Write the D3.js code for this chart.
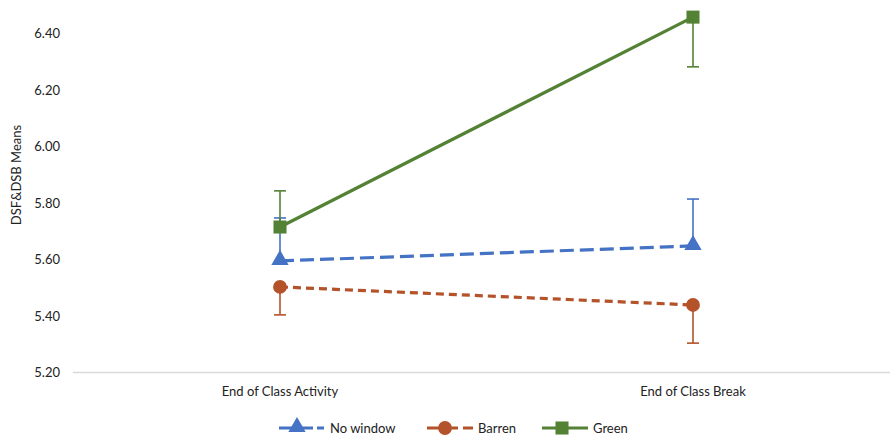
<!DOCTYPE html>
<html>
<head>
<meta charset="utf-8">
<script src="https://cdn.jsdelivr.net/npm/d3@7"></script>
<style>
  html, body { margin: 0; padding: 0; background: #fff; }
  svg { display: block; }
  text { font-family: Lato, "Open Sans", sans-serif; fill: #222; }
</style>
</head>
<body>
<svg id="chart" width="890" height="438"></svg>
<script>
const categories = ["End of Class Activity", "End of Class Break"];
const seriesNames = ["No window", "Barren", "Green"];
const noWindow = [5.595, 5.648];
const barren = [5.503, 5.439];
const green = [5.715, 6.458];
// one-sided error bars: positive = upward, negative = downward
const noWindowErr = [0.152, 0.166];
const barrenErr = [-0.099, -0.135];
const greenErr = [0.128, -0.176];
const yTicks = [5.20, 5.40, 5.60, 5.80, 6.00, 6.20, 6.40];

const colors = ["#4472C4", "#B4522A", "#548235"];
const dashes = ["14,6", "8,5", null];
const markers = [d3.symbolTriangle, d3.symbolCircle, d3.symbolSquare];
const markerSizes = [130, 150, 170];

const series = [
  {name: seriesNames[0], values: noWindow, err: noWindowErr},
  {name: seriesNames[1], values: barren, err: barrenErr},
  {name: seriesNames[2], values: green, err: greenErr}
];

const svg = d3.select("#chart");
const x = d3.scaleBand().domain(categories).range([73.5, 899.5]).padding(0);
const y = d3.scaleLinear().domain([5.2, 6.5]).range([372.5, 5.25]);

// y tick labels (no axis line)
const yAxis = d3.axisLeft(y).tickValues(yTicks).tickFormat(d3.format(".2f")).tickSize(0).tickPadding(0);
const gy = svg.append("g").attr("transform", "translate(60,0)").call(yAxis);
gy.select(".domain").remove();
gy.selectAll("text").attr("font-size", 13).attr("font-family", "Lato, 'Open Sans', sans-serif").attr("fill", "#222");

// x axis
const xAxis = d3.axisBottom(x).tickSize(0).tickPadding(14);
const gx = svg.append("g").attr("transform", `translate(0,${y(5.2)})`).call(xAxis);
gx.select(".domain").attr("stroke", "#d9d9d9").attr("stroke-width", 1.5).attr("d", "M73,0H890");
gx.selectAll("text").attr("font-size", 13).attr("font-family", "Lato, 'Open Sans', sans-serif").attr("fill", "#222");

// y title
svg.append("text")
  .attr("transform", "translate(21,175) rotate(-90)")
  .attr("text-anchor", "middle")
  .attr("font-size", 13)
  .text("DSF&DSB Means");

const cx = d => x(d) + x.bandwidth() / 2;

// error bars
series.forEach((s, i) => {
  const g = svg.append("g");
  s.values.forEach((v, j) => {
    const xc = cx(categories[j]);
    const y0 = y(v), y1 = y(v + s.err[j]);
    g.append("line").attr("x1", xc).attr("x2", xc).attr("y1", y0).attr("y2", y1)
      .attr("stroke", colors[i]).attr("stroke-width", 1.6);
    g.append("line").attr("x1", xc - 6).attr("x2", xc + 6).attr("y1", y1).attr("y2", y1)
      .attr("stroke", colors[i]).attr("stroke-width", 1.6);
  });
});

// lines
const line = d3.line().x((d, j) => cx(categories[j])).y(d => y(d));
series.forEach((s, i) => {
  svg.append("path").datum(s.values).attr("d", line)
    .attr("fill", "none").attr("stroke", colors[i]).attr("stroke-width", 3.2)
    .attr("stroke-dasharray", dashes[i]);
});

// markers
series.forEach((s, i) => {
  svg.append("g").selectAll("path").data(s.values).join("path")
    .attr("transform", (d, j) => `translate(${cx(categories[j])},${y(d) + (i === 0 ? -1 : 0)})`)
    .attr("d", d3.symbol().type(markers[i]).size(markerSizes[i]))
    .attr("fill", colors[i]);
});

// legend
const legendItems = [
  {x1: 279, x2: 324, mx: 297, tx: 330},
  {x1: 427, x2: 473, mx: 445, tx: 478},
  {x1: 542, x2: 588, mx: 562, tx: 593}
];
const ly = 428;
series.forEach((s, i) => {
  const L = legendItems[i];
  const g = svg.append("g");
  g.append("line").attr("x1", L.x1).attr("x2", L.x2).attr("y1", ly).attr("y2", ly)
    .attr("stroke", colors[i]).attr("stroke-width", 3.2).attr("stroke-dasharray", dashes[i] ? (i === 1 ? "17,5,9,5" : "15,4") : null);
  g.append("path").attr("transform", `translate(${L.mx},${ly - (i === 0 ? 1 : 0)})`)
    .attr("d", d3.symbol().type(markers[i]).size(markerSizes[i]))
    .attr("fill", colors[i]);
  g.append("text").attr("x", L.tx).attr("y", ly).attr("dy", "0.35em")
    .attr("font-size", 13).text(s.name);
});
</script>
</body>
</html>
